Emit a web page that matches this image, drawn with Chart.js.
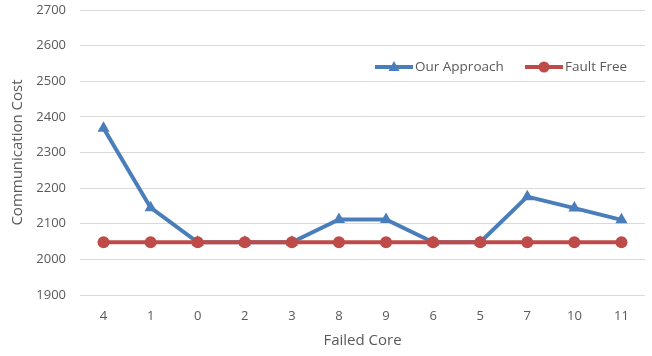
<!DOCTYPE html>
<html>
<head>
<meta charset="utf-8">
<script src="https://cdn.jsdelivr.net/npm/chart.js@4"></script>
<style>
  html, body { margin: 0; padding: 0; background: #fff; }
  #wrap { width: 652px; height: 356px; }
</style>
</head>
<body>
<div id="wrap"><canvas id="chart"></canvas></div>
<script>
// Data
const failedCores = ['4', '1', '0', '2', '3', '8', '9', '6', '5', '7', '10', '11'];
const ourApproach = [2368, 2145, 2048, 2048, 2048, 2112, 2112, 2048, 2048, 2176, 2144, 2111];
const faultFree = [2048, 2048, 2048, 2048, 2048, 2048, 2048, 2048, 2048, 2048, 2048, 2048];

const BLUE = '#4A7EBB';
const RED = '#BE4B48';
const TEXT = '#595959';
const FONT = '"Open Sans", sans-serif';

// legend drawn inside the plot area, top right
const insideLegend = {
    id: 'insideLegend',
    afterDraw(chart) {
        const ctx = chart.ctx;
        const area = chart.chartArea;
        const y = area.top + 57;
        const items = [
            { ds: chart.data.datasets[0], x: area.right - 270 },
            { ds: chart.data.datasets[1], x: area.right - 120 }
        ];
        ctx.save();
        ctx.font = '13.5px ' + FONT;
        ctx.textBaseline = 'middle';
        items.forEach(it => {
            const c = it.ds.borderColor;
            ctx.strokeStyle = c;
            ctx.fillStyle = c;
            ctx.lineWidth = 4;
            ctx.beginPath();
            ctx.moveTo(it.x, y);
            ctx.lineTo(it.x + 38, y);
            ctx.stroke();
            const cx = it.x + 19;
            ctx.beginPath();
            if (it.ds.pointStyle === 'triangle') {
                ctx.moveTo(cx, y - 6);
                ctx.lineTo(cx + 5.5, y + 4);
                ctx.lineTo(cx - 5.5, y + 4);
                ctx.closePath();
            } else {
                ctx.arc(cx, y, 5.5, 0, Math.PI * 2);
            }
            ctx.fill();
            ctx.fillStyle = TEXT;
            ctx.textAlign = 'left';
            ctx.fillText(it.ds.label, it.x + 40, y);
        });
        ctx.restore();
    }
};

const ctx = document.getElementById('chart').getContext('2d');
new Chart(ctx, {
    type: 'line',
    data: {
        labels: failedCores,
        datasets: [{
            label: 'Our Approach',
            data: ourApproach,
            borderColor: BLUE,
            backgroundColor: BLUE,
            borderWidth: 4,
            pointStyle: 'triangle',
            pointRadius: 7,
            pointBorderWidth: 0,
            tension: 0,
            order: 1
        }, {
            label: 'Fault Free',
            data: faultFree,
            borderColor: RED,
            backgroundColor: RED,
            borderWidth: 4,
            pointStyle: 'circle',
            pointRadius: 6,
            pointBorderWidth: 0,
            tension: 0,
            order: 0
        }]
    },
    options: {
        responsive: true,
        maintainAspectRatio: false,
        animation: false,
        layout: { padding: { top: 10, right: 7, left: 0, bottom: 0 } },
        plugins: {
            legend: { display: false },
            tooltip: { enabled: false }
        },
        scales: {
            x: {
                offset: true,
                grid: { display: false, drawTicks: false },
                border: { display: false },
                ticks: { color: TEXT, font: { family: FONT, size: 13 }, padding: 13 },
                title: { display: true, text: 'Failed Core', color: TEXT, font: { family: FONT, size: 15 }, padding: { top: 4, bottom: 6 } },
                afterFit(scale) {
                    scale.height = 61;
                    scale.paddingLeft = 0;
                    scale.paddingRight = 0;
                }
            },
            y: {
                min: 1900,
                max: 2700,
                grid: { color: '#D9D9D9', lineWidth: 1, drawTicks: false },
                border: { display: false },
                ticks: {
                    stepSize: 100,
                    color: TEXT,
                    font: { family: FONT, size: 13 },
                    padding: 14,
                    callback: v => String(v)
                },
                title: { display: true, text: 'Communication Cost', color: TEXT, font: { family: FONT, size: 15 }, padding: { top: 9, bottom: 0 } },
                afterFit(scale) {
                    scale.width = 80;
                    scale.paddingTop = 0;
                    scale.paddingBottom = 0;
                }
            }
        }
    },
    plugins: [insideLegend]
});
</script>
</body>
</html>
